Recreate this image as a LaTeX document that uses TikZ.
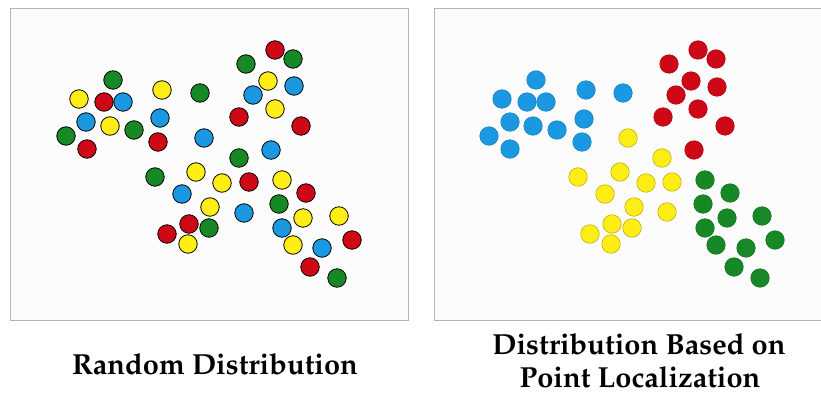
\documentclass[tikz,border=0pt]{standalone}
\usepackage[T1]{fontenc}
\usepackage{mathpazo}
\definecolor{dblue}{RGB}{27,152,226}
\definecolor{dred}{RGB}{206,8,22}
\definecolor{dgreen}{RGB}{22,136,38}
\definecolor{dyellow}{RGB}{255,237,22}
\definecolor{frame}{RGB}{180,180,180}
\definecolor{panel}{RGB}{252,252,252}
\tikzset{
  ldot/.style={circle, minimum size=18.5pt, inner sep=0pt, draw=black, line width=0.8pt},
  rdot/.style={circle, minimum size=18.5pt, inner sep=0pt, line width=0.6pt},
  caption/.style={font=\fontsize{29}{32}\selectfont\bfseries, align=center, inner sep=0pt}
}
\begin{document}
\begin{tikzpicture}[x=1pt,y=-1pt]
\useasboundingbox (0,0) rectangle (821,396);
\fill[white] (0,0) rectangle (821,396);
% panels
\fill[panel] (10,9) rectangle (408,320);
\draw[frame, line width=1pt] (10,9) rectangle (408,320);
\fill[panel] (434,9) rectangle (823,320);
\draw[frame, line width=1pt] (823,9) -- (434,9) -- (434,320) -- (823,320);
% left: random distribution
\foreach \x/\y/\c [count=\i] in {
 113/80/dgreen, 79/99/dyellow, 104/102/dred, 123/102/dblue, 86/122/dblue,
 110/126/dyellow, 134/130/dgreen, 66/136/dgreen, 87/149/dred, 162/90/dyellow,
 160/118/dblue, 158/142/dred, 200/93/dgreen, 204/138/dblue, 155/177/dgreen,
 196/172/dyellow, 222/183/dyellow, 182/194/dblue, 210/207/dyellow, 189/224/dred,
 209/228/dgreen, 167/234/dred, 188/244/dyellow, 246/64/dgreen, 275/50/dred,
 293/59/dgreen, 268/81/dyellow, 294/86/dblue, 253/95/dblue, 275/109/dyellow,
 239/117/dred, 301/126/dred, 239/158/dgreen, 271/150/dblue, 249/182/dred,
 282/180/dyellow, 306/193/dred, 244/213/dblue, 279/204/dgreen, 303/218/dyellow,
 339/216/dyellow, 282/228/dblue, 293/245/dyellow, 322/248/dblue, 352/240/dred,
 310/267/dred, 337/278/dgreen}
  \node[ldot, fill=\c] (l\i) at (\x,\y) {};
% right: localized distribution
\foreach \x/\y [count=\i] in {536/80, 502/99, 527/102, 546/102, 510/122, 533/126,
 557/130, 489/136, 510/149, 586/90, 584/119, 582/142, 623/93}
  \node[rdot, fill=dblue, draw=dblue!85!black] (rb\i) at (\x,\y) {};
\foreach \x/\y [count=\i] in {698/50, 716/59, 669/64, 691/81, 717/87, 676/95,
 698/109, 663/117, 725/126, 694/150}
  \node[rdot, fill=dred, draw=dred!85!black] (rr\i) at (\x,\y) {};
\foreach \x/\y [count=\i] in {628/138, 662/158, 578/177, 620/172, 646/183, 672/182,
 605/194, 634/207, 667/212, 612/224, 632/228, 590/234, 611/244}
  \node[rdot, fill=dyellow, draw=dyellow!75!black] (ry\i) at (\x,\y) {};
\foreach \x/\y [count=\i] in {705/180, 730/193, 703/204, 727/218, 762/216, 705/228,
 716/245, 746/248, 775/240, 734/267, 760/278}
  \node[rdot, fill=dgreen, draw=dgreen!85!black] (rg\i) at (\x,\y) {};
% captions
\node[caption, anchor=base] (capL) at (215,374) {Random Distribution};
\node[caption, anchor=base] (capR1) at (639,354) {Distribution Based on};
\node[caption, anchor=base] (capR2) at (640,387) {Point Localization};
\end{tikzpicture}
\end{document}
